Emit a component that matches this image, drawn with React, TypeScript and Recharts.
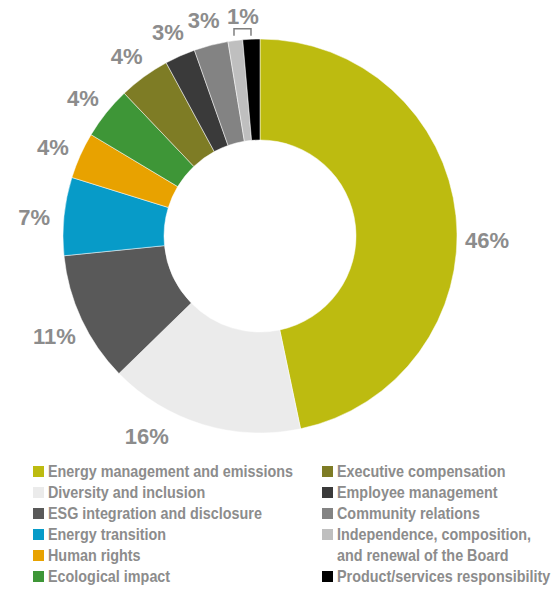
import React from "react";
import { PieChart, Pie, Cell, Legend } from "recharts";

const categories = [
  "Energy management and emissions",
  "Diversity and inclusion",
  "ESG integration and disclosure",
  "Energy transition",
  "Human rights",
  "Ecological impact",
  "Executive compensation",
  "Employee management",
  "Community relations",
  "Independence, composition, and renewal of the Board",
  "Product/services responsibility",
];
const shares = [46.7, 16, 10.7, 6.4, 3.8, 4.3, 4.2, 2.5, 2.8, 1.2, 1.4];
const shareLabels = ["46%", "16%", "11%", "7%", "4%", "4%", "4%", "3%", "3%", "1%", ""];
const colors = [
  "#BDBB10",
  "#EBEBEB",
  "#595959",
  "#079BC8",
  "#E8A200",
  "#3E9637",
  "#7E7C25",
  "#3A3A3A",
  "#838383",
  "#BFBFBF",
  "#000000",
];

const leftLegend = [0, 1, 2, 3, 4, 5];
const rightLegend = [6, 7, 8, 9, 10];

const data = categories.map((name, i) => ({ name, value: shares[i], label: shareLabels[i] }));

const RAD = Math.PI / 180;
const labelColor = "#8C8C8C";
// small angular nudges, like the source which moved two labels
const labelNudge: Record<number, number> = { 0: -6, 1: -13 };

const renderLabel = (props: any) => {
  const { cx, cy, midAngle, outerRadius, endAngle, index } = props;
  const text = shareLabels[index];
  if (!text) return null;
  if (index === 9) {
    // bracket over the two smallest slices
    const a = endAngle;
    const bx = cx + (outerRadius + 8) * Math.cos(-a * RAD);
    const by = cy + (outerRadius + 8) * Math.sin(-a * RAD) - 3;
    return (
      <g>
        <path
          d={`M${bx - 8},${by + 7} L${bx - 8},${by} L${bx + 9},${by} L${bx + 9},${by + 7}`}
          stroke="#7F7F7F"
          strokeWidth={1.5}
          fill="none"
        />
        <text
          x={bx + 1}
          y={by - 12}
          textAnchor="middle"
          dominantBaseline="central"
          fill={labelColor}
          fontSize={22}
          fontWeight="bold"
          fontFamily="'Liberation Sans', Arial, sans-serif"
        >
          {text}
        </text>
      </g>
    );
  }
  const r = outerRadius + 30;
  const ang = midAngle + (labelNudge[index] || 0);
  const x = cx + r * Math.cos(-ang * RAD);
  const y = cy + r * Math.sin(-ang * RAD) + 4;
  return (
    <text
      x={x}
      y={y}
      textAnchor="middle"
      dominantBaseline="central"
      fill={labelColor}
      fontSize={22}
      fontWeight="bold"
      fontFamily="'Liberation Sans', Arial, sans-serif"
    >
      {text}
    </text>
  );
};

const legendText: React.CSSProperties = {
  fontFamily: "'Liberation Sans', Arial, sans-serif",
  fontWeight: "bold",
  fontSize: 17,
  color: labelColor,
  lineHeight: "21px",
  display: "inline-block",
  transform: "scaleX(0.845)",
  transformOrigin: "left center",
};

const LegendItem = ({ i }: { i: number }) => {
  const lines = i === 9 ? ["Independence, composition,", "and renewal of the Board"] : [categories[i]];
  return (
    <>
      {lines.map((line, k) => (
        <div key={k} style={{ display: "flex", alignItems: "center", height: 21, whiteSpace: "nowrap" }}>
          <span
            style={{
              display: "inline-block",
              flex: "none",
              width: 11,
              height: 11,
              marginRight: 4,
              background: k === 0 ? colors[i] : "transparent",
            }}
          />
          <span style={legendText}>{line}</span>
        </div>
      ))}
    </>
  );
};

const renderLegend = () => (
  <div style={{ position: "relative", width: 556, height: 128, overflow: "hidden" }}>
    <div style={{ position: "absolute", left: 33, top: 0, width: 280 }}>
      {leftLegend.map((i) => (
        <LegendItem key={i} i={i} />
      ))}
    </div>
    <div style={{ position: "absolute", left: 322, top: 0, width: 234 }}>
      {rightLegend.map((i) => (
        <LegendItem key={i} i={i} />
      ))}
    </div>
  </div>
);

export default function App() {
  return (
    <div style={{ position: "absolute", left: 0, top: 0, width: 556, height: 590, overflow: "hidden" }}>
      <PieChart width={556} height={590} margin={{ top: 0, right: 0, bottom: 0, left: 0 }}>
        <Pie
          data={data}
          dataKey="value"
          nameKey="name"
          cx={260}
          cy={236}
          innerRadius={96}
          outerRadius={197}
          startAngle={90}
          endAngle={-270}
          stroke="#ffffff"
          strokeWidth={0.5}
          label={renderLabel}
          labelLine={false}
          isAnimationActive={false}
        >
          {data.map((d, i) => (
            <Cell key={d.name} fill={colors[i]} />
          ))}
        </Pie>
        <Legend
          content={renderLegend}
          wrapperStyle={{ position: "absolute", left: 0, top: 461, width: 556 }}
        />
      </PieChart>
    </div>
  );
}
